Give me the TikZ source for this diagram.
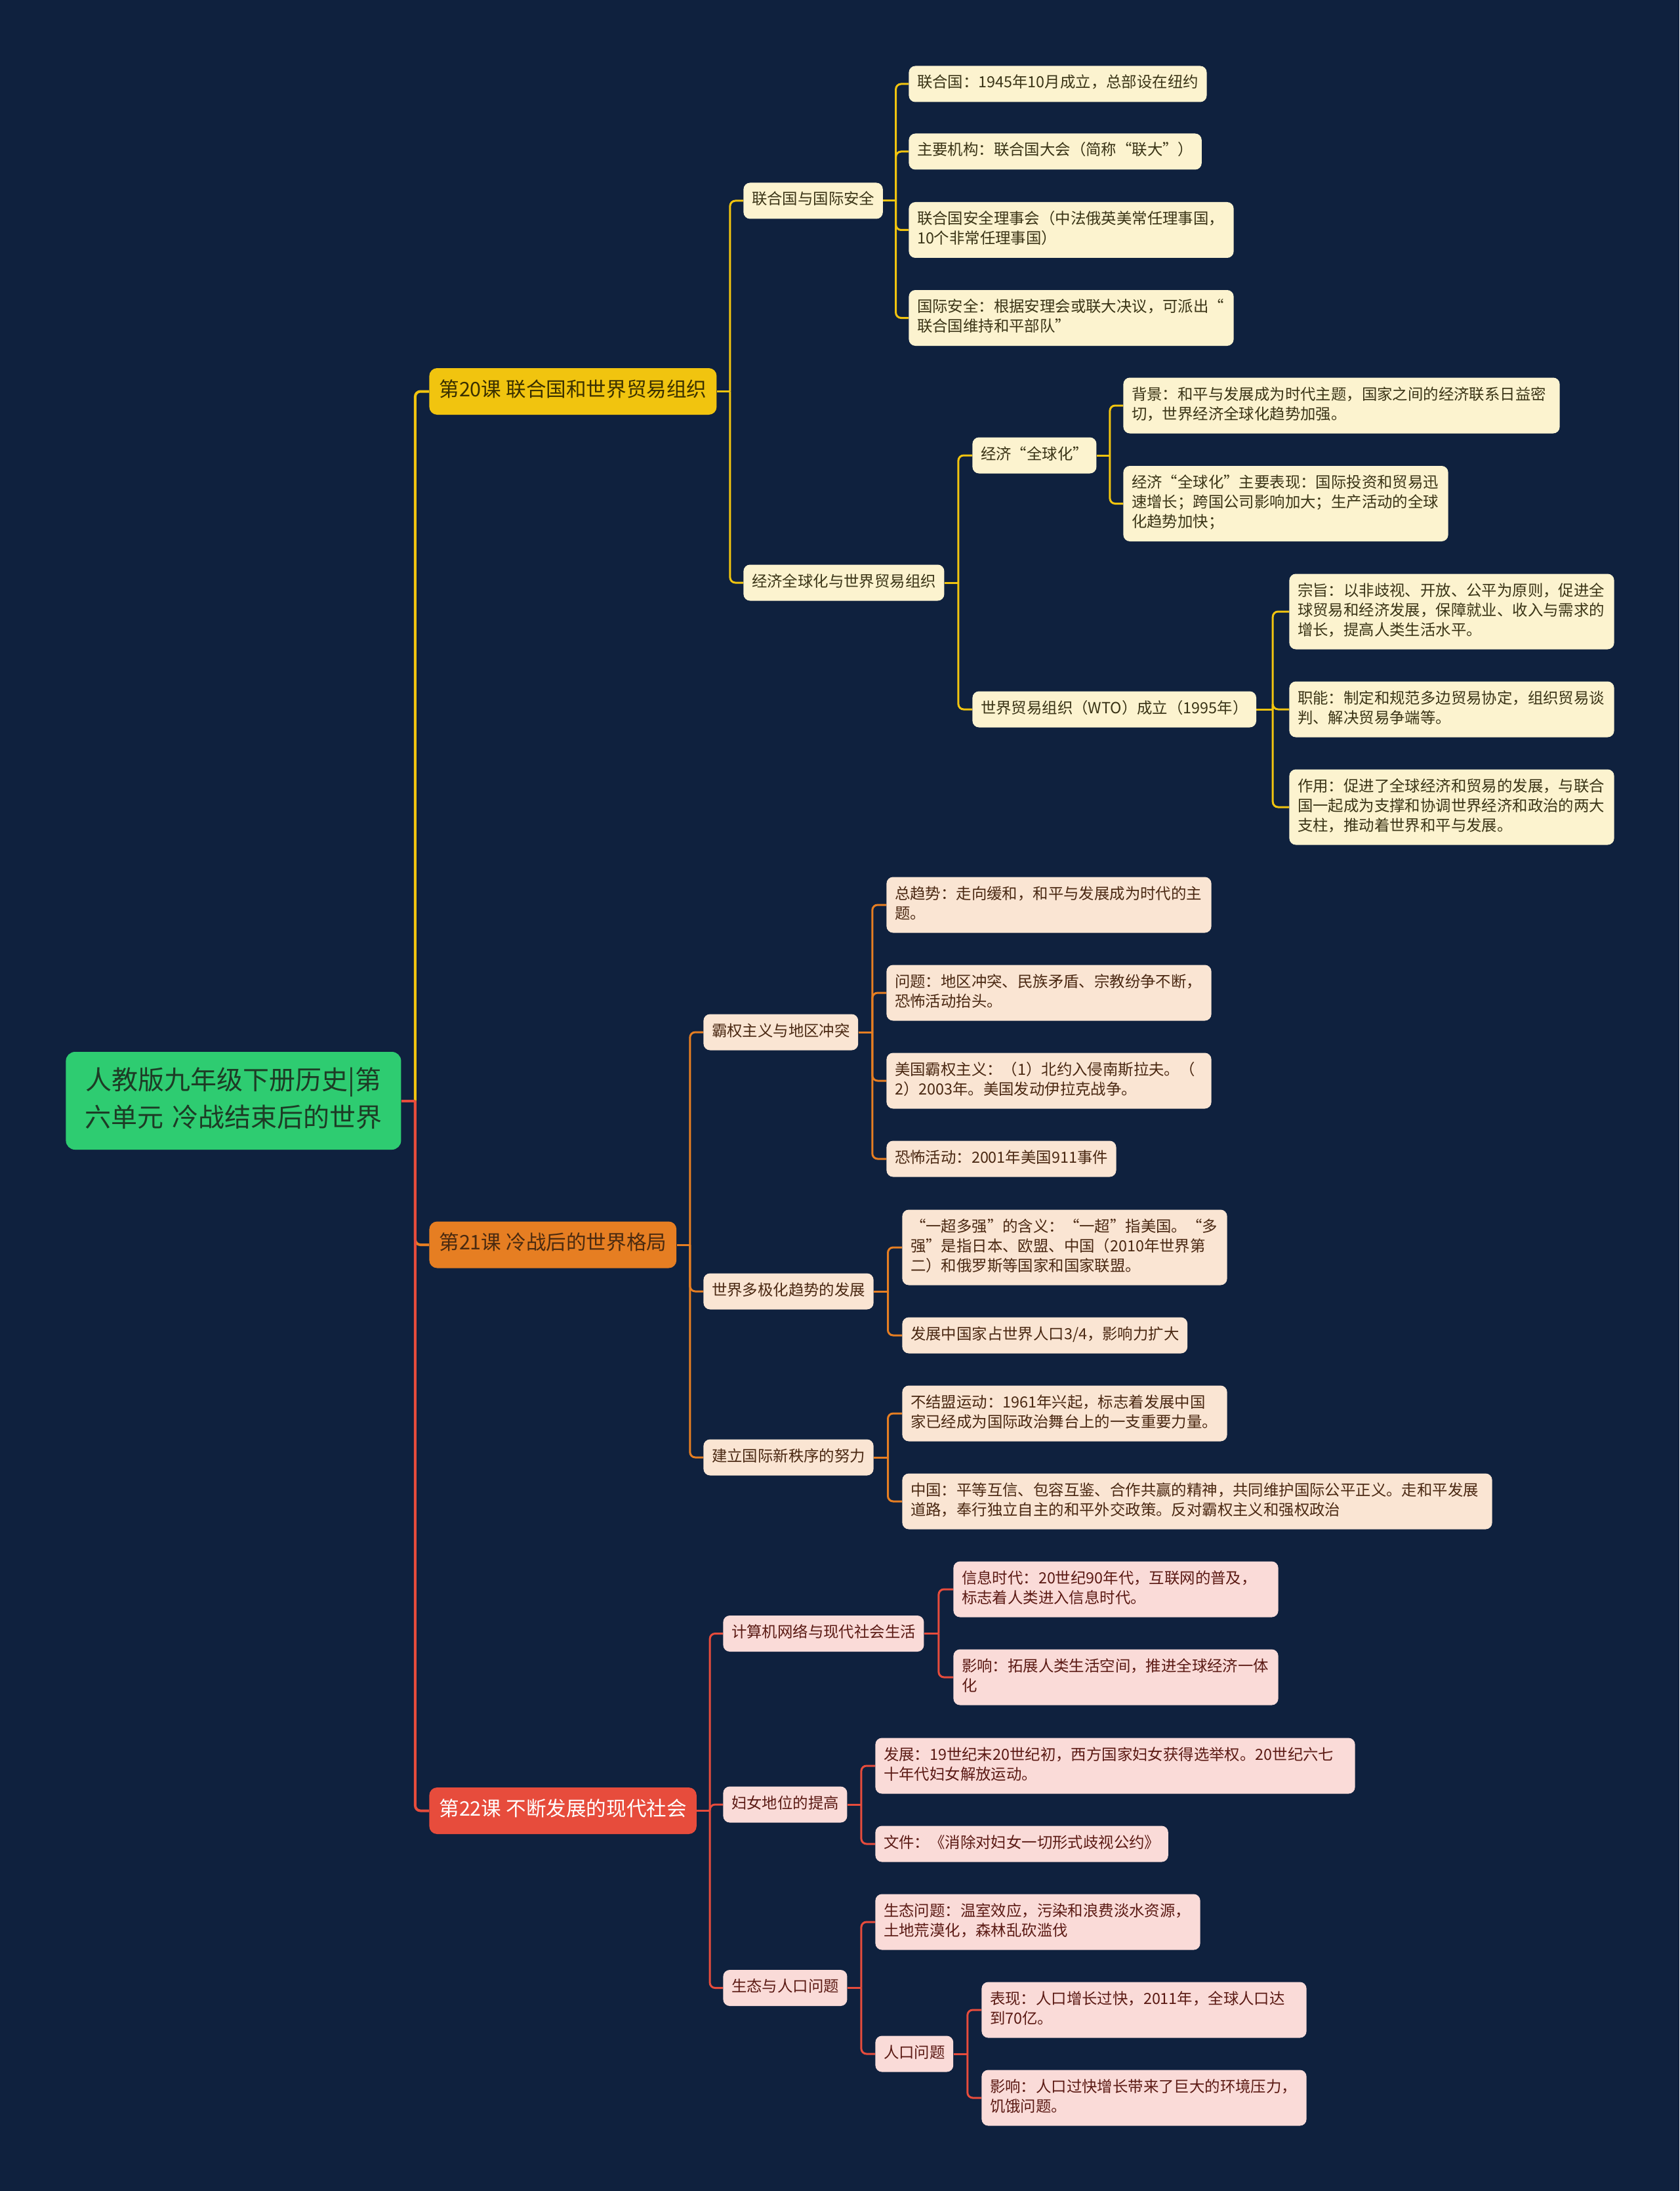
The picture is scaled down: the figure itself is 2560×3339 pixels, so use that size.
\documentclass[tikz,border=0pt]{standalone}
\usepackage{fontspec}
\setmainfont{Noto Sans CJK SC}
\usetikzlibrary{calc}
\definecolor{bg}{RGB}{15,33,62}
\definecolor{grn}{HTML}{2ECC71}
\definecolor{grnT}{HTML}{1D3B25}
\definecolor{yel}{HTML}{F1C40F}
\definecolor{yelL}{HTML}{FCF3CF}
\definecolor{yelT}{HTML}{3A3416}
\definecolor{yelTT}{HTML}{3A3000}
\definecolor{org}{HTML}{E67E22}
\definecolor{orgL}{HTML}{FAE5D3}
\definecolor{orgT}{HTML}{4A2812}
\definecolor{orgTT}{HTML}{4A2A10}
\definecolor{rd}{HTML}{E74C3C}
\definecolor{rdL}{HTML}{FADBD8}
\definecolor{rdT}{HTML}{5B1A14}
\pgfdeclarelayer{bgl}
\pgfdeclarelayer{lines}
\pgfsetlayers{bgl,lines,main}
\newcommand\lnk[3]{%
  \begin{pgfonlayer}{lines}
  \path ($(#2.east)!0.5!(#3.west)$) coordinate (lnkm);
  \draw[#1] (#2.east) -- (lnkm |- #2.east);
  \draw[#1, rounded corners=4pt] (lnkm |- #2.east) |- (#3.west);
  \end{pgfonlayer}}
\tikzset{
  box/.style={rounded corners=5pt, anchor=west, align=left, inner xsep=6.3pt, inner ysep=6.25pt,
    font=\fontsize{11.7}{15}\selectfont, execute at begin node=\strut, execute at end node=\strut},
  ya/.style={box, fill=yelL, text=yelT},
  oa/.style={box, fill=orgL, text=orgT},
  ra/.style={box, fill=rdL, text=rdT},
  wd/.style={text width=#1},
  topbox/.style={rounded corners=6pt, anchor=west, inner xsep=7.5pt, inner ysep=8.25pt,
    font=\fontsize{15.3}{19}\selectfont, execute at begin node=\strut, execute at end node=\strut},
  rootbox/.style={rounded corners=7pt, anchor=west, align=center, text width=244pt, inner xsep=5.75pt,
    inner ysep=8.75pt, fill=grn, text=grnT, font=\fontsize{20}{28.5}\selectfont,
    execute at begin node=\strut, execute at end node=\strut},
  ytk/.style={draw=yel, line width=2pt},
  otk/.style={draw=org, line width=2pt},
  rtk/.style={draw=rd, line width=2pt},
  yln/.style={draw=yel, line width=1.5pt},
  oln/.style={draw=org, line width=1.5pt},
  rln/.style={draw=rd, line width=1.5pt}
}
\begin{document}
\begin{tikzpicture}[x=0.5pt,y=-0.5pt]
\begin{pgfonlayer}{bgl}
\fill[bg] (0,0) rectangle (2560,3339);
\end{pgfonlayer}
\useasboundingbox (0,0) rectangle (2560,3339);

% root
\node[rootbox] (root) at (100,1677.5) {人教版九年级下册历史|第\\六单元~冷战结束后的世界};

% level 1
\node[topbox, fill=yel, text=yelTT] (L20) at (654,596.5) {第20课 联合国和世界贸易组织};
\node[topbox, fill=org, text=orgTT] (L21) at (654,1897) {第21课 冷战后的世界格局};
\node[topbox, fill=rd, text=white] (L22) at (654,2759.5) {第22课 不断发展的现代社会};

% ===== L20 =====
\node[ya] (B0) at (1133,306) {联合国与国际安全};
\node[ya] (B1) at (1133,888) {经济全球化与世界贸易组织};
\node[ya] (A1) at (1385,128) {联合国：1945年10月成立，总部设在纽约};
\node[ya] (A2) at (1385,231) {主要机构：联合国大会（简称“联大”）};
\node[ya, wd=235pt] (A3) at (1385,350.5) {联合国安全理事会（中法俄英美常任理事国，\\10个非常任理事国）};
\node[ya, wd=235pt] (A4) at (1385,484.5) {国际安全：根据安理会或联大决议，可派出“\\联合国维持和平部队”};
\node[ya] (C1) at (1482,694) {经济“全球化”};
\node[ya] (C2) at (1482,1081) {世界贸易组织（WTO）成立（1995年）};
\node[ya, wd=320pt] (D1) at (1712,618) {背景：和平与发展成为时代主题，国家之间的经济联系日益密\\切，世界经济全球化趋势加强。};
\node[ya, wd=235pt] (D2) at (1712,767.5) {经济“全球化”主要表现：国际投资和贸易迅\\速增长；跨国公司影响加大；生产活动的全球\\化趋势加快；};
\node[ya, wd=235pt] (E1) at (1965,932) {宗旨：以非歧视、开放、公平为原则，促进全\\球贸易和经济发展，保障就业、收入与需求的\\增长，提高人类生活水平。};
\node[ya, wd=235pt] (E2) at (1965,1081) {职能：制定和规范多边贸易协定，组织贸易谈\\判、解决贸易争端等。};
\node[ya, wd=235pt] (E3) at (1965,1230) {作用：促进了全球经济和贸易的发展，与联合\\国一起成为支撑和协调世界经济和政治的两大\\支柱，推动着世界和平与发展。};

% ===== L21 =====
\node[oa] (F1) at (1072,1573) {霸权主义与地区冲突};
\node[oa] (F2) at (1072,1968) {世界多极化趋势的发展};
\node[oa] (F3) at (1072,2221) {建立国际新秩序的努力};
\node[oa, wd=235pt] (G1) at (1351,1379) {总趋势：走向缓和，和平与发展成为时代的主\\题。};
\node[oa, wd=235pt] (G2) at (1351,1513) {问题：地区冲突、民族矛盾、宗教纷争不断，\\恐怖活动抬头。};
\node[oa, wd=235pt] (G3) at (1351,1647) {美国霸权主义：（1）北约入侵南斯拉夫。（\\2）2003年。美国发动伊拉克战争。};
\node[oa] (G4) at (1351,1766) {恐怖活动：2001年美国911事件};
\node[oa, wd=235pt] (H1) at (1375,1901) {“一超多强”的含义：“一超”指美国。“多\\强”是指日本、欧盟、中国（2010年世界第\\二）和俄罗斯等国家和国家联盟。};
\node[oa] (H2) at (1375,2035) {发展中国家占世界人口3/4，影响力扩大};
\node[oa, wd=235pt] (H3) at (1375,2154) {不结盟运动：1961年兴起，标志着发展中国\\家已经成为国际政治舞台上的一支重要力量。};
\node[oa, wd=437pt] (H4) at (1375,2288) {中国：平等互信、包容互鉴、合作共赢的精神，共同维护国际公平正义。走和平发展\\道路，奉行独立自主的和平外交政策。反对霸权主义和强权政治};

% ===== L22 =====
\node[ra] (K1) at (1102,2489.5) {计算机网络与现代社会生活};
\node[ra] (K2) at (1102,2750) {妇女地位的提高};
\node[ra] (K3) at (1102,3029.5) {生态与人口问题};
\node[ra, wd=235pt] (M1) at (1453,2422) {信息时代：20世纪90年代，互联网的普及，\\标志着人类进入信息时代。};
\node[ra, wd=235pt] (M2) at (1453,2556) {影响：拓展人类生活空间，推进全球经济一体\\化};
\node[ra, wd=353pt] (M3) at (1334,2691) {发展：19世纪末20世纪初，西方国家妇女获得选举权。20世纪六七\\十年代妇女解放运动。};
\node[ra] (M4) at (1334,2810) {文件：《消除对妇女一切形式歧视公约》};
\node[ra, wd=235pt] (M5) at (1334,2929) {生态问题：温室效应，污染和浪费淡水资源，\\土地荒漠化，森林乱砍滥伐};
\node[ra] (M6) at (1334,3130) {人口问题};
\node[ra, wd=235pt] (N1) at (1496,3063) {表现：人口增长过快，2011年，全球人口达\\到70亿。};
\node[ra, wd=235pt] (N2) at (1496,3197) {影响：人口过快增长带来了巨大的环境压力，\\饥饿问题。};

% ===== connectors =====
\lnk{ytk}{root}{L20}
\lnk{otk}{root}{L21}
\lnk{rtk}{root}{L22}

\lnk{yln}{L20}{B0}
\lnk{yln}{L20}{B1}
\lnk{yln}{B0}{A1}
\lnk{yln}{B0}{A2}
\lnk{yln}{B0}{A3}
\lnk{yln}{B0}{A4}
\lnk{yln}{B1}{C1}
\lnk{yln}{B1}{C2}
\lnk{yln}{C1}{D1}
\lnk{yln}{C1}{D2}
\lnk{yln}{C2}{E1}
\lnk{yln}{C2}{E2}
\lnk{yln}{C2}{E3}

\lnk{oln}{L21}{F1}
\lnk{oln}{L21}{F2}
\lnk{oln}{L21}{F3}
\lnk{oln}{F1}{G1}
\lnk{oln}{F1}{G2}
\lnk{oln}{F1}{G3}
\lnk{oln}{F1}{G4}
\lnk{oln}{F2}{H1}
\lnk{oln}{F2}{H2}
\lnk{oln}{F3}{H3}
\lnk{oln}{F3}{H4}

\lnk{rln}{L22}{K1}
\lnk{rln}{L22}{K2}
\lnk{rln}{L22}{K3}
\lnk{rln}{K1}{M1}
\lnk{rln}{K1}{M2}
\lnk{rln}{K2}{M3}
\lnk{rln}{K2}{M4}
\lnk{rln}{K3}{M5}
\lnk{rln}{K3}{M6}
\lnk{rln}{M6}{N1}
\lnk{rln}{M6}{N2}
\end{tikzpicture}
\end{document}
